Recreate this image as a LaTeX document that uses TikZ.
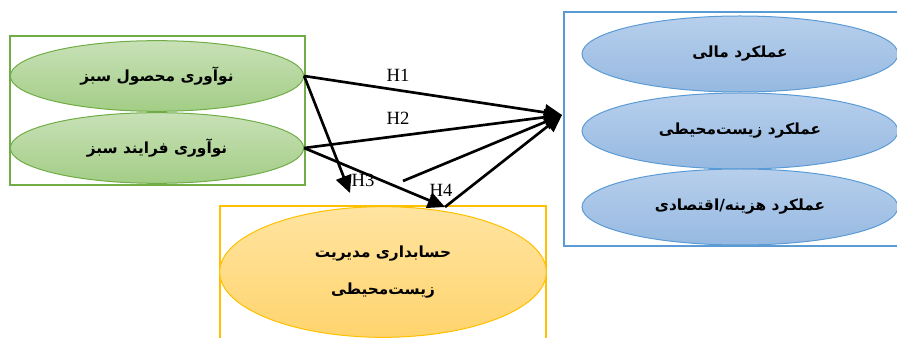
\documentclass[tikz,border=0pt]{standalone}
\usepackage{fontspec}
\setmainfont{Liberation Serif}
\newfontfamily\arabicfont[Script=Arabic]{DejaVu Sans}
\TeXXeTstate=1
\usetikzlibrary{shapes.geometric,arrows.meta}

\definecolor{grnLine}{RGB}{112,173,71}
\definecolor{grnTop}{RGB}{200,225,183}
\definecolor{grnBot}{RGB}{163,205,134}
\definecolor{bluLine}{RGB}{91,155,213}
\definecolor{bluTop}{RGB}{183,207,236}
\definecolor{bluBot}{RGB}{150,185,225}
\definecolor{ylwLine}{RGB}{255,192,0}
\definecolor{ylwTop}{RGB}{255,228,160}
\definecolor{ylwBot}{RGB}{255,212,110}

\tikzset{every picture/.style={line width=0.75pt}}
\tikzset{
  grnEll/.style={ellipse, draw=grnLine, top color=grnTop, bottom color=grnBot, minimum width=220pt, minimum height=53pt, inner sep=0pt, font=\arabicfont\bfseries\fontsize{11.5}{13}\selectfont},
  bluEll/.style={ellipse, draw=bluLine, top color=bluTop, bottom color=bluBot, minimum width=237pt, minimum height=57pt, inner sep=0pt, font=\arabicfont\bfseries\fontsize{11.5}{13}\selectfont},
  hyp/.style={line width=2pt, -{Triangle[length=13pt,width=12pt]}},
  hlabel/.style={inner sep=0.75pt, font=\fontsize{14}{16}\selectfont}
}

\begin{document}
\begin{tikzpicture}[x=0.75pt,y=0.75pt,yscale=-1,xscale=1]
\useasboundingbox (0,0) rectangle (897,338);

%Shape: Rectangle [id:greenBox]
\draw [color=grnLine, line width=1.5pt] (10,36) rectangle (305,185) ;
%Shape: Rectangle [id:perfBox]
\draw [color=bluLine, line width=1.5pt] (564,12) rectangle (905,246) ;
%Shape: Rectangle [id:emaBox]
\draw [color=ylwLine, line width=1.5pt] (220,206) rectangle (546,350) ;

% Ellipse Nodes
\node [grnEll] (prodInnov) at (157,76) {\beginR نوآوری محصول سبز\endR};
\node [grnEll] (procInnov) at (157,148) {\beginR نوآوری فرایند سبز\endR};
\node [bluEll] (finPerf) at (740,54) {\beginR عملکرد مالی\endR};
\node [bluEll] (envPerf) at (740,131) {\beginR عملکرد زیست‌محیطی\endR};
\node [bluEll] (costPerf) at (740,207) {\beginR عملکرد هزینه/اقتصادی\endR};
\node [ellipse, draw=ylwLine, top color=ylwTop, bottom color=ylwBot, minimum width=245pt, minimum height=98pt, inner sep=0pt, align=center, font=\arabicfont\bfseries\fontsize{11.5}{13}\selectfont] (ema) at (383,272) {\beginR حسابداری مدیریت\endR\\[15pt]\beginR زیست‌محیطی\endR};

% Free ends
\coordinate (perfIn) at (562,115);
\coordinate (h3End) at (350,193);
\coordinate (h4End) at (445,207);
\coordinate (h3Mid) at (403,181);

%Straight Lines
\draw [hyp] (prodInnov.east) -- (perfIn) ;
\draw [hyp] (procInnov.east) -- (perfIn) ;
\draw [hyp] (prodInnov.east) -- (h3End) ;
\draw [hyp] (procInnov.east) -- (h4End) ;
\draw [hyp] (h3Mid) -- (perfIn) ;
\draw [hyp] (h4End) -- (perfIn) ;

% Text Node
\node [hlabel] (h1) at (398,75) {H1};
% Text Node
\node [hlabel] (h2) at (398,118) {H2};
% Text Node
\node [hlabel] (h3) at (363,180) {H3};
% Text Node
\node [hlabel] (h4) at (441,190) {H4};

\end{tikzpicture}
\end{document}
